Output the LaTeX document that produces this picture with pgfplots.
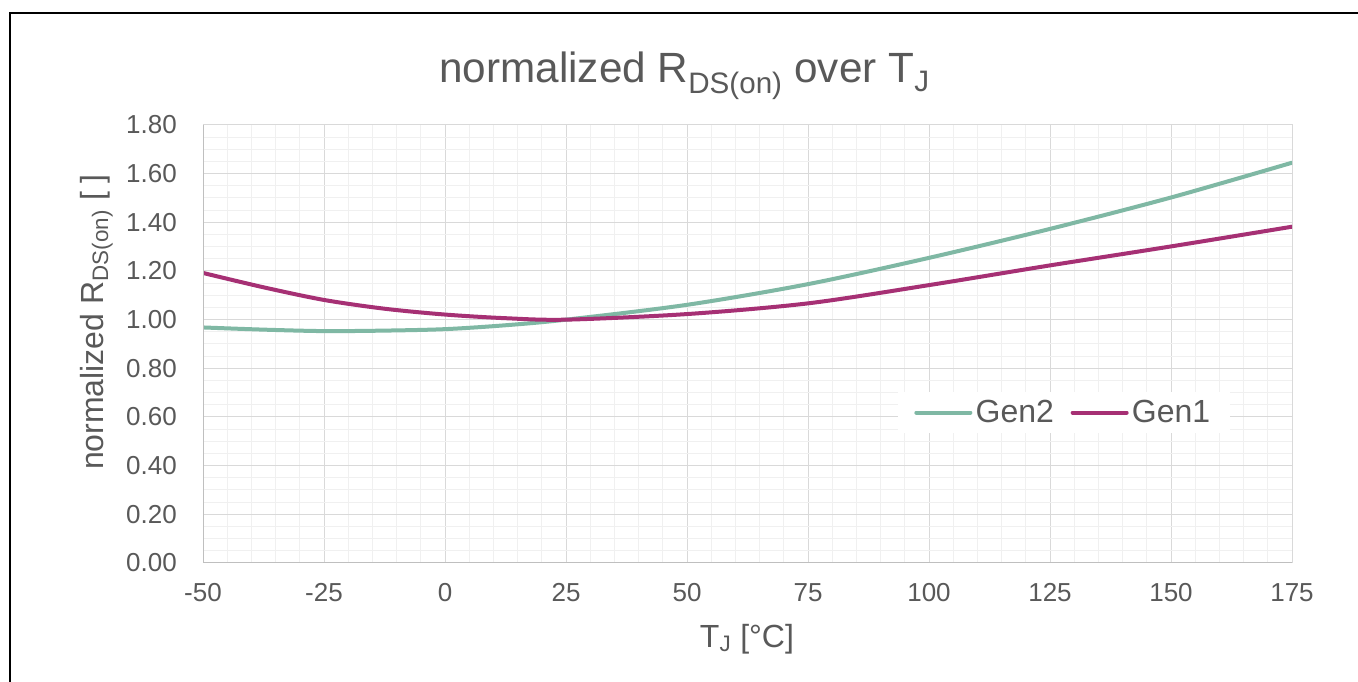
\documentclass[border=0pt]{standalone}
\usepackage{pgfplots}
\pgfplotsset{compat=1.18}
\usepackage{fontspec}
\setmainfont{Liberation Sans}
\definecolor{txt}{HTML}{595959}
\definecolor{gmaj}{HTML}{D9D9D9}
\definecolor{gmin}{HTML}{F0F0F0}
\definecolor{axl}{HTML}{BFBFBF}
\definecolor{gentwo}{RGB}{127,184,164}
\definecolor{genone}{RGB}{166,48,116}
\begin{document}
\begin{tikzpicture}
\useasboundingbox (0,0) rectangle (1018.5pt,510.75pt);
\fill[white] (0,0) rectangle (1018.5pt,510.75pt);
\draw[black, line width=1.6pt] (7.5pt,-2pt) -- (7.5pt,501pt) -- (1022pt,501pt);
\node[anchor=base, text=txt, font=\fontsize{31.7}{38}\selectfont] at (513.4pt,448.5pt)
  {normalized R\textsubscript{DS(on)} over T\textsubscript{J}};
\begin{axis}[
  at={(152.25pt,88.5pt)}, anchor=south west,
  width=816.75pt, height=328.5pt, scale only axis,
  xmin=-50, xmax=175, ymin=0, ymax=1.8,
  xtick={-50,-25,...,175},
  ytick={0,0.2,...,1.8},
  minor x tick num=4, minor y tick num=3,
  grid=both,
  major grid style={gmaj, line width=0.75pt},
  minor grid style={gmin, line width=0.75pt},
  major tick length=0pt, minor tick length=0pt,
  axis line style={gmaj, line width=0.75pt},
  /pgf/number format/assume math mode=true,
  ticklabel style={text=txt, font=\fontsize{19.5}{23}\selectfont},
  yticklabel style={/pgf/number format/.cd, fixed, fixed zerofill, precision=2, /tikz/.cd, anchor=east, inner sep=0pt, xshift=-19.5pt},
  xticklabel style={anchor=north, inner sep=0pt, yshift=-15pt},
  xlabel={T\textsubscript{J} [°C]},
  ylabel={normalized R\textsubscript{DS(on)} [ ]},
  label style={text=txt, font=\fontsize{24}{29}\selectfont},
  xlabel style={at={(axis description cs:0.4995,-0.1918)}, anchor=base, inner sep=0pt},
  ylabel style={at={(axis description cs:-0.0918,0.55)}, anchor=base, inner sep=0pt},
  legend columns=2,
  legend style={draw=none, fill=white, at={(0.7906,0.3436)}, anchor=center,
    font=\fontsize{24}{29}\selectfont, text=txt,
    inner xsep=12pt, inner ysep=4pt,
    nodes={inner xsep=2.5pt},
    /tikz/every even column/.append style={column sep=10pt}},
  legend image code/.code={\draw[#1] (0pt,0pt) -- (40.5pt,0pt);},
  every axis plot/.append style={line width=3pt, line cap=round},
]
\addplot[gentwo, smooth] coordinates {
(-50,0.968) (-37.5,0.959) (-25,0.953) (-12.5,0.955) (0,0.961) (12.5,0.977) (25,1.0) (50,1.061)
(75,1.146) (100,1.254) (125,1.373) (150,1.502) (175,1.645)};
\addlegendentry{Gen2}
\addplot[genone, smooth] coordinates {
(-50,1.192) (-37.5,1.133) (-25,1.081) (-12.5,1.045) (0,1.021) (12.5,1.006) (25,1.0) (50,1.023)
(75,1.067) (100,1.142) (125,1.223) (150,1.301) (175,1.382)};
\addlegendentry{Gen1}
\draw[axl, line width=0.75pt] (axis cs:-50,1.8) -- (axis cs:-50,0) -- (axis cs:175,0);
\end{axis}
\end{tikzpicture}
\end{document}
